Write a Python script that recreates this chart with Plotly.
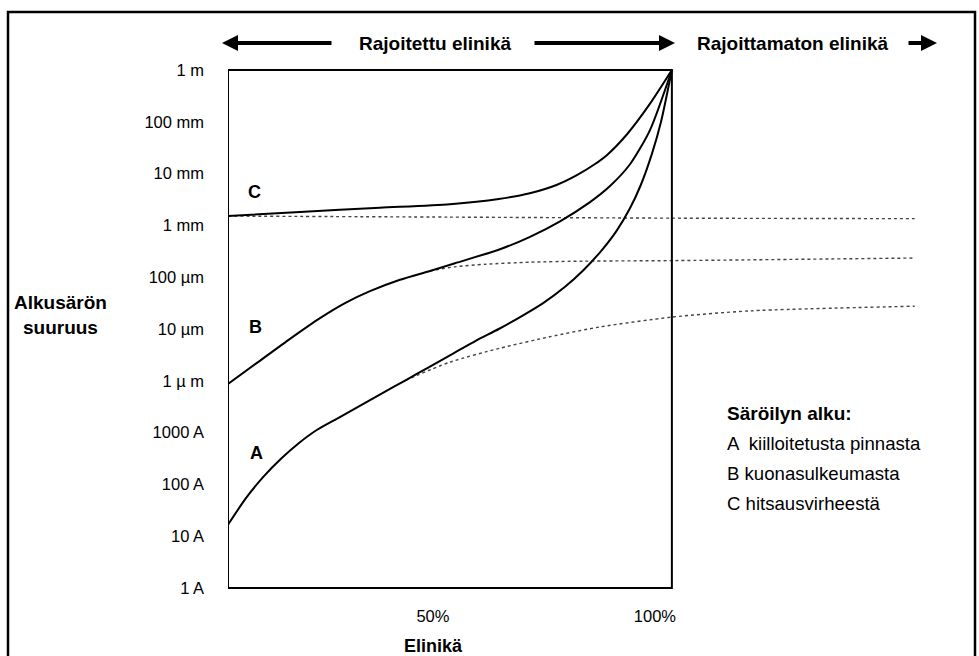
import plotly.graph_objects as go

# ---------------- data (x: % of life, y: log10 of initial crack size in metres) ----------------
a_solid_x = [0, 4, 8, 12, 16, 20, 25, 30, 35, 40, 45, 51, 56, 61, 66, 71, 76, 80, 84, 87.5, 90.5, 93, 95.5, 97.5, 100]
a_solid_y = [-8.78, -8.27, -7.85, -7.50, -7.20, -6.95, -6.71, -6.47, -6.23, -5.99, -5.75, -5.46, -5.22, -5.00,
             -4.76, -4.50, -4.18, -3.87, -3.50, -3.11, -2.68, -2.22, -1.62, -1.02, 0.0]
a_dot_x = [40.0, 50.0, 61.3, 72.5, 83.8, 100, 117.6, 154.7]
a_dot_y = [-5.99, -5.64, -5.37, -5.15, -4.96, -4.77, -4.65, -4.56]

b_solid_x = [0, 6.76, 13.97, 20.73, 26.36, 31.99, 38.75, 45.51, 51.14, 61.28, 68.04, 74.80, 81.56, 86.06, 90.57, 95.07, 100]
b_solid_y = [-6.06, -5.64, -5.19, -4.79, -4.50, -4.27, -4.05, -3.88, -3.73, -3.46, -3.22, -2.92, -2.55, -2.24, -1.82, -1.16, 0.0]
b_dot_x = [45.51, 51.0, 58.0, 68.0, 80.0, 100, 154.7]
b_dot_y = [-3.88, -3.80, -3.75, -3.71, -3.69, -3.68, -3.63]

c_solid_x = [0, 16.2, 34.2, 50.0, 61.0, 68.0, 74.0, 78.6, 82.6, 85.4, 89.9, 95.0, 100]
c_solid_y = [-2.82, -2.74, -2.66, -2.59, -2.49, -2.38, -2.22, -2.03, -1.82, -1.64, -1.24, -0.66, 0.0]
c_dot_x = [0, 50, 100, 154.7]
c_dot_y = [-2.82, -2.84, -2.86, -2.87]

y_tickvals = [-10, -9, -8, -7, -6, -5, -4, -3, -2, -1, 0]
y_ticktext = ["1 A", "10 A", "100 A", "1000 A", "1 µ m", "10 µm", "100 µm", "1 mm", "10 mm", "100 mm", "1 m"]
x_tickvals = [50, 100]
x_ticktext = ["50%", "100%"]

legend_title = "Säröilyn alku:"
legend_lines = ["A  kiilloitetusta pinnasta", "B kuonasulkeumasta", "C hitsausvirheestä"]

# ---------------- layout geometry ----------------
W, H = 979, 656
L, T, B = 228, 70, 68
PW = 688
R = W - L - PW
PH = H - T - B
XMAX = 155.0
FONT = "Liberation Sans, Arial, sans-serif"


def px(xp):
    return (xp - L) / PW


def py(yp):
    return (T + PH - yp) / PH


fig = go.Figure()

solid = dict(color="black", width=2)
dotted = dict(color="#444444", width=1.4, dash="dot")

for xs, ys in [(a_dot_x, a_dot_y), (b_dot_x, b_dot_y), (c_dot_x, c_dot_y)]:
    fig.add_trace(go.Scatter(x=xs, y=ys, mode="lines", line=dict(**dotted, shape="spline", smoothing=0.7),
                             hoverinfo="skip", showlegend=False))
for xs, ys in [(a_solid_x, a_solid_y), (b_solid_x, b_solid_y), (c_solid_x, c_solid_y)]:
    fig.add_trace(go.Scatter(x=xs, y=ys, mode="lines", line=dict(**solid, shape="spline", smoothing=0.7),
                             hoverinfo="skip", showlegend=False))

shapes = [
    # plot box (0..100 %)
    dict(type="rect", xref="x", yref="paper", x0=0, x1=100, y0=0, y1=1,
         line=dict(color="black", width=2)),
    # outer frame
    dict(type="rect", xref="paper", yref="paper", x0=px(8), x1=px(975), y0=py(680), y1=py(12),
         line=dict(color="black", width=2.5)),
]

annotations = []
# curve letters
for t, xv, yv in [("C", 5.9, -2.35), ("B", 6.3, -4.96), ("A", 6.5, -7.39)]:
    annotations.append(dict(x=xv, y=yv, xref="x", yref="y", text="<b>" + t + "</b>", showarrow=False,
                            font=dict(family=FONT, size=18, color="black"), xanchor="center", yanchor="middle"))
# header texts
annotations.append(dict(x=px(357), y=py(43), xref="paper", yref="paper", text="<b>Rajoitettu elinikä</b>",
                        showarrow=False, xanchor="left", yanchor="middle",
                        font=dict(family=FONT, size=19, color="black")))
annotations.append(dict(x=px(695), y=py(43), xref="paper", yref="paper", text="<b>Rajoittamaton elinikä</b>",
                        showarrow=False, xanchor="left", yanchor="middle",
                        font=dict(family=FONT, size=19, color="black")))
# header arrows
for head, tail in [(222, 333), (675, 533), (937, 907)]:
    annotations.append(dict(x=px(head), y=py(43), xref="paper", yref="paper", text="", showarrow=True,
                            ax=tail - head, ay=0, arrowhead=2, arrowsize=0.8, arrowwidth=4, arrowcolor="black",
                            standoff=0, startstandoff=0))
# axis titles
annotations.append(dict(x=px(60), y=py(315), xref="paper", yref="paper", text="<b>Alkusärön<br>suuruus</b>",
                        showarrow=False, xanchor="center", yanchor="middle",
                        font=dict(family=FONT, size=19, color="black")))
annotations.append(dict(x=px(433), y=py(646), xref="paper", yref="paper", text="<b>Elinikä</b>",
                        showarrow=False, xanchor="center", yanchor="middle",
                        font=dict(family=FONT, size=18, color="black")))
# legend block
annotations.append(dict(x=px(725), y=py(413), xref="paper", yref="paper", text="<b>" + legend_title + "</b>",
                        showarrow=False, xanchor="left", yanchor="middle",
                        font=dict(family=FONT, size=19, color="black")))
for i, line in enumerate(legend_lines):
    annotations.append(dict(x=px(725), y=py(443 + 30 * i), xref="paper", yref="paper", text=line,
                            showarrow=False, xanchor="left", yanchor="middle",
                            font=dict(family=FONT, size=18.6, color="black")))

fig.update_layout(
    width=W, height=H,
    margin=dict(l=L, r=R, t=T, b=B, pad=0),
    paper_bgcolor="white", plot_bgcolor="white",
    showlegend=False,
    shapes=shapes,
    annotations=annotations,
    xaxis=dict(range=[0, XMAX], showgrid=False, zeroline=False, showline=False,
               tickvals=x_tickvals, ticktext=x_ticktext, ticks="",
               tickfont=dict(family=FONT, size=16.5, color="black"),
               ticklabelstandoff=16, ticklabelshift=-17, fixedrange=True),
    yaxis=dict(range=[-10, 0], showgrid=False, zeroline=False, showline=False,
               tickvals=y_tickvals, ticktext=y_ticktext, ticks="",
               tickfont=dict(family=FONT, size=16.5, color="black"),
               ticklabelstandoff=23, fixedrange=True),
)

fig.write_html("out.html", config={"displayModeBar": False},
               post_script="document.body.style.margin='0px'; document.body.style.overflow='hidden';")
